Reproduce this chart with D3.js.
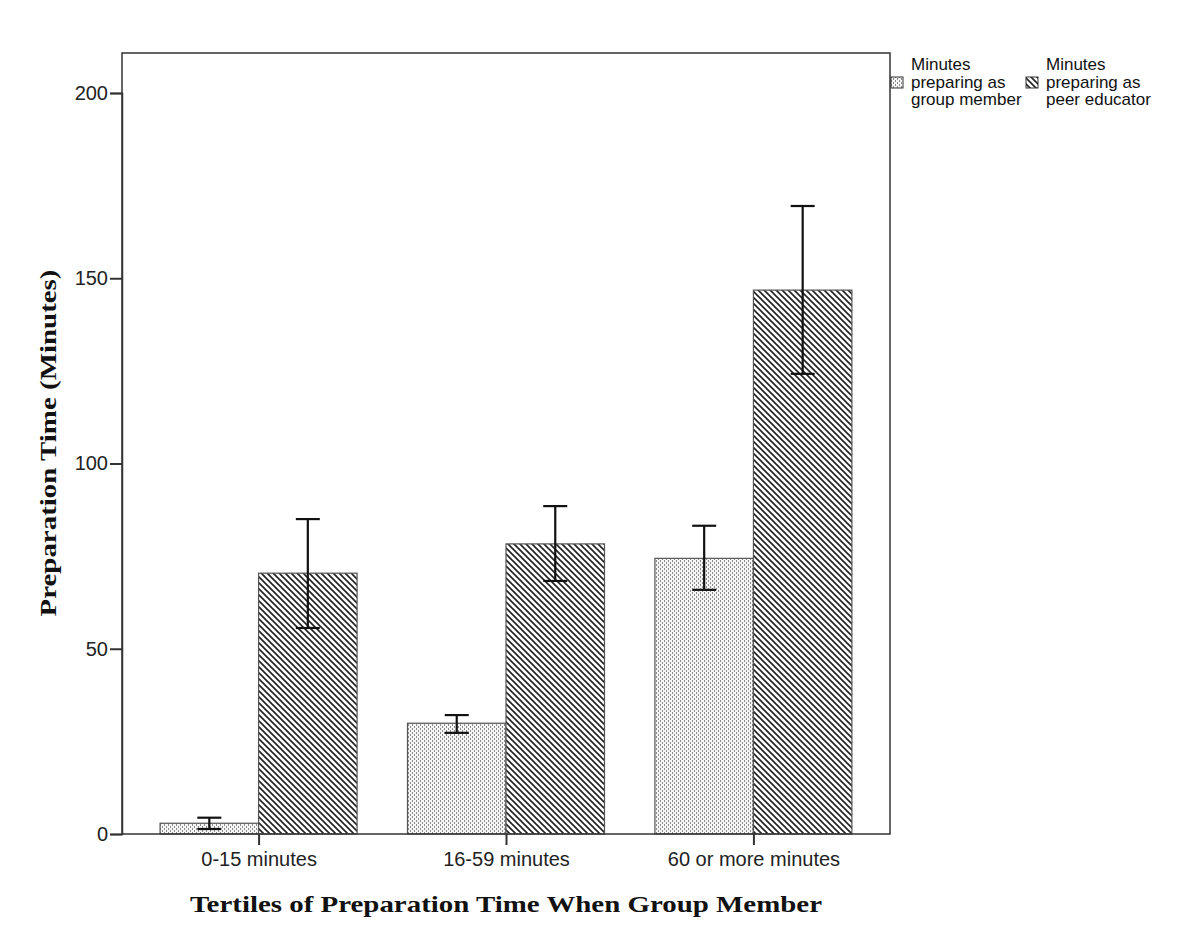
<!DOCTYPE html>
<html><head><meta charset="utf-8">
<script src="https://cdn.jsdelivr.net/npm/d3@7"></script>
<style>body{margin:0;background:#fff}</style>
</head><body>
<svg id="chart" width="1200" height="950"></svg>
<script>
const categories = ["0-15 minutes", "16-59 minutes", "60 or more minutes"];
const seriesNames = ["Minutes preparing as group member", "Minutes preparing as peer educator"];
const groupMean = [2.9, 29.9, 74.4];
const groupLow = [1.35, 27.3, 65.9];
const groupHigh = [4.4, 32.1, 83.2];
const peerMean = [70.4, 78.3, 146.8];
const peerLow = [55.6, 68.3, 124.2];
const peerHigh = [85.0, 88.5, 169.5];
const yTicks = [0, 50, 100, 150, 200];

(function () {
const svg = d3.select("#chart");
const pLeft = 122, pRight = 890, pTop = 53, pBottom = 834;
const y = d3.scaleLinear().domain([0, 200]).range([834, 93]);
const x = d3.scalePoint().domain(categories).range([pLeft, pRight]).padding(0.552);
const sub = d3.scaleBand().domain([0, 1]).range([-98.5, 98.5]);
const sans = "Arial, 'Liberation Sans', sans-serif";

const defs = svg.append("defs");
const dots = defs.append("pattern").attr("id", "dots").attr("patternUnits", "userSpaceOnUse")
  .attr("width", 4).attr("height", 4);
dots.append("rect").attr("width", 4).attr("height", 4).attr("fill", "#f6f6f6");
dots.append("rect").attr("x", 0).attr("y", 0).attr("width", 1).attr("height", 2).attr("fill", "#8a8a8a");
dots.append("rect").attr("x", 2).attr("y", 2).attr("width", 1).attr("height", 2).attr("fill", "#8a8a8a");
const hatch = defs.append("pattern").attr("id", "hatch").attr("patternUnits", "userSpaceOnUse")
  .attr("width", 6).attr("height", 6);
hatch.append("rect").attr("width", 6).attr("height", 6).attr("fill", "#fff");
hatch.append("path").attr("d", "M-1,-1 L7,7 M-1,5 L1,7 M5,-1 L7,1").attr("stroke", "#222").attr("stroke-width", 1.6);

const fills = ["url(#dots)", "url(#hatch)"];
const data = [
  {mean: groupMean, lo: groupLow, hi: groupHigh},
  {mean: peerMean, lo: peerLow, hi: peerHigh}
];

data.forEach((s, si) => {
  svg.append("g").selectAll("rect").data(categories).join("rect")
    .attr("x", (c) => x(c) + sub(si))
    .attr("y", (c, i) => y(s.mean[i]))
    .attr("width", sub.bandwidth())
    .attr("height", (c, i) => y(0) - y(s.mean[i]))
    .attr("fill", fills[si])
    .attr("stroke", "#555").attr("stroke-width", 1.2);
});

data.forEach((s, si) => {
  const g = svg.append("g").attr("stroke", "#111").attr("stroke-width", 2.2);
  categories.forEach((c, i) => {
    const cx = x(c) + sub(si) + sub.bandwidth() / 2;
    g.append("line").attr("x1", cx).attr("x2", cx).attr("y1", y(s.lo[i])).attr("y2", y(s.hi[i]));
    g.append("line").attr("x1", cx - 12).attr("x2", cx + 12).attr("y1", y(s.lo[i])).attr("y2", y(s.lo[i]));
    g.append("line").attr("x1", cx - 12).attr("x2", cx + 12).attr("y1", y(s.hi[i])).attr("y2", y(s.hi[i]));
  });
});

svg.append("rect").attr("x", pLeft).attr("y", pTop).attr("width", pRight - pLeft).attr("height", pBottom - pTop)
  .attr("fill", "none").attr("stroke", "#333").attr("stroke-width", 1.5);

const yAxis = svg.append("g").attr("transform", `translate(${pLeft},0)`)
  .call(d3.axisLeft(y).tickValues(yTicks).tickSize(12).tickPadding(2).tickFormat(d3.format("d")));
yAxis.select(".domain").attr("stroke", "#333").attr("stroke-width", 1.5);
yAxis.selectAll(".tick line").attr("stroke", "#333").attr("stroke-width", 2);
yAxis.selectAll("text").attr("font-family", sans).attr("font-size", 20).attr("fill", "#222");

const xAxis = svg.append("g").attr("transform", `translate(0,${pBottom})`)
  .call(d3.axisBottom(x).tickSize(11).tickPadding(7));
xAxis.select(".domain").remove();
xAxis.selectAll(".tick line").attr("stroke", "#333").attr("stroke-width", 2);
xAxis.selectAll("text").attr("font-family", sans).attr("font-size", 20).attr("fill", "#222");

svg.append("text").attr("x", 506).attr("y", 912).attr("text-anchor", "middle")
  .attr("font-family", "'Liberation Serif', 'Times New Roman', serif").attr("font-weight", "bold")
  .attr("font-size", 23).attr("fill", "#111")
  .attr("textLength", 632).attr("lengthAdjust", "spacingAndGlyphs")
  .text("Tertiles of Preparation Time When Group Member");
svg.append("text").attr("transform", "translate(56,443) rotate(-90)").attr("text-anchor", "middle")
  .attr("font-family", "'Liberation Serif', 'Times New Roman', serif").attr("font-weight", "bold")
  .attr("font-size", 23).attr("fill", "#111")
  .attr("textLength", 347).attr("lengthAdjust", "spacingAndGlyphs")
  .text("Preparation Time (Minutes)");

const legendX = [891, 1026];
const legendLines = [["Minutes", "preparing as", "group member"], ["Minutes", "preparing as", "peer educator"]];
seriesNames.forEach((name, i) => {
  const g = svg.append("g").attr("transform", `translate(${legendX[i]},0)`);
  g.append("rect").attr("x", 0).attr("y", 77).attr("width", 12).attr("height", 11)
    .attr("fill", fills[i]).attr("stroke", "#333").attr("stroke-width", 1);
  const t = g.append("text").attr("font-family", sans)
    .attr("font-size", 17).attr("fill", "#111");
  legendLines[i].forEach((l, j) => t.append("tspan").attr("x", 20).attr("y", 70 + j * 17.5).text(l));
});
})();
</script>
</body></html>
